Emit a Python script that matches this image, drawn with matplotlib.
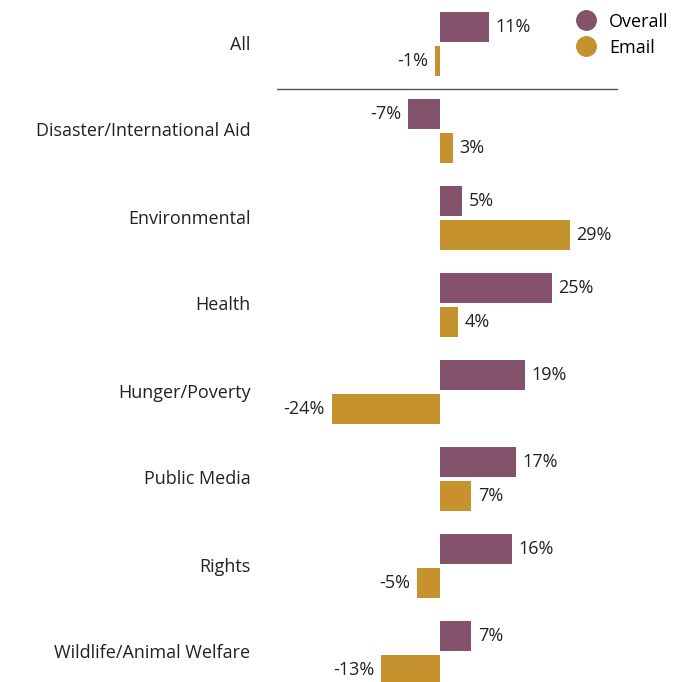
import matplotlib.pyplot as plt
from matplotlib.lines import Line2D

plt.rcParams['font.family'] = ['Open Sans', 'DejaVu Sans']

categories = ['All', 'Disaster/International Aid', 'Environmental', 'Health',
              'Hunger/Poverty', 'Public Media', 'Rights', 'Wildlife/Animal Welfare']
overall = [11, -7, 5, 25, 19, 17, 16, 7]
email = [-1, 3, 29, 4, -24, 7, -5, -13]

purple = '#84526B'
gold = '#C6922E'

fig = plt.figure(figsize=(6.77, 6.82), dpi=100)
# axes spans from x=277px to right edge, full height; y in pixel-like units
ax = fig.add_axes([277 / 677, 0, 400 / 677, 1])
ax.set_xlim(-36.2, 52.7)
ax.set_ylim(682, 0)

step = 87
bar_h = 30
y_over = [27 + step * i for i in range(len(categories))]
y_email = [y + 34 for y in y_over]

ax.barh(y_over, overall, height=bar_h, color=purple)
ax.barh(y_email, email, height=bar_h, color=gold)

for ys, vals in [(y_over, overall), (y_email, email)]:
    for y, v in zip(ys, vals):
        if v >= 0:
            ax.annotate(f'{v}%', (v, y), xytext=(4.5, 0), textcoords='offset points',
                        ha='left', va='center', fontsize=13, color='#222222')
        else:
            ax.annotate(f'{v}%', (v, y), xytext=(-5, 0), textcoords='offset points',
                        ha='right', va='center', fontsize=13, color='#222222')

# separator under "All"
ax.axhline(89, xmin=0, xmax=340 / 400, color='#555555', lw=1)

ax.set_yticks([(a + b) / 2 - 1.5 for a, b in zip(y_over, y_email)])
ax.set_yticklabels(categories, fontsize=13, color='#222222')
ax.tick_params(axis='y', length=0, pad=19)
ax.set_xticks([])
for s in ax.spines.values():
    s.set_visible(False)

handles = [Line2D([], [], marker='o', ls='', color=purple, markersize=14),
           Line2D([], [], marker='o', ls='', color=gold, markersize=14)]
fig.legend(handles, ['Overall', 'Email'], loc='upper right', bbox_to_anchor=(1.006, 1.0),
           frameon=False, fontsize=13, handletextpad=0.25, labelspacing=0.45,
           borderaxespad=0.3)

fig.savefig('out.png', dpi=100)
